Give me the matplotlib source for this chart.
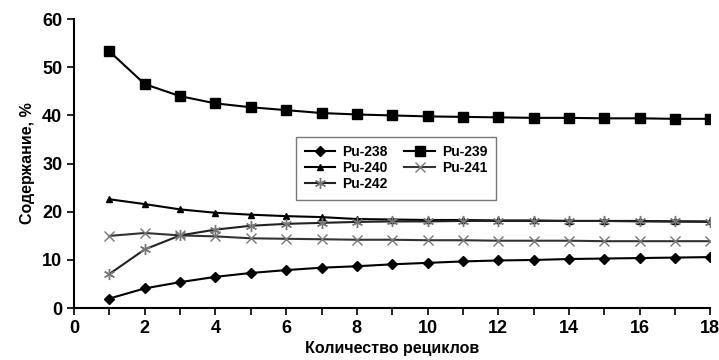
import matplotlib
matplotlib.use("Agg")
import matplotlib.pyplot as plt
from matplotlib.ticker import MultipleLocator

plt.rcParams['font.family'] = ['Liberation Sans', 'DejaVu Sans']
plt.rcParams['font.weight'] = 'bold'

cycles = list(range(1, 19))
pu238 = [2.0, 4.1, 5.4, 6.5, 7.3, 7.9, 8.4, 8.7, 9.1, 9.4, 9.7, 9.9, 10.0, 10.2, 10.3, 10.4, 10.5, 10.6]
pu239 = [53.3, 46.5, 44.0, 42.5, 41.7, 41.1, 40.5, 40.2, 40.0, 39.8, 39.7, 39.6, 39.5, 39.5, 39.4, 39.4, 39.3, 39.3]
pu240 = [22.6, 21.6, 20.5, 19.8, 19.4, 19.1, 18.9, 18.5, 18.4, 18.3, 18.3, 18.2, 18.2, 18.1, 18.1, 18.1, 18.0, 18.0]
pu241 = [15.0, 15.6, 15.1, 14.9, 14.5, 14.4, 14.3, 14.2, 14.2, 14.1, 14.1, 14.0, 14.0, 14.0, 13.9, 13.9, 13.9, 13.9]
pu242 = [7.1, 12.2, 15.1, 16.3, 17.1, 17.5, 17.7, 17.9, 18.0, 18.0, 18.1, 18.1, 18.1, 18.1, 18.1, 18.0, 18.0, 17.9]
labels = ['Pu-238', 'Pu-239', 'Pu-240', 'Pu-241', 'Pu-242']

fig = plt.figure(figsize=(7.19, 3.6), dpi=100)
ax = fig.add_axes([0.103, 0.144, 0.885, 0.803])

h238, = ax.plot(cycles, pu238, color='black', lw=1.5, marker='D', ms=5.5, mfc='black', mec='black')
h239, = ax.plot(cycles, pu239, color='black', lw=1.5, marker='s', ms=6.5, mfc='black', mec='black')
h240, = ax.plot(cycles, pu240, color='black', lw=1.5, marker='^', ms=4, mfc='black', mec='black')
h241, = ax.plot(cycles, pu241, color='#333333', lw=1.5, marker='x', ms=7, mec='#777777', mew=1.0)
h242, = ax.plot(cycles, pu242, color='#222222', lw=1.5, marker=(6, 2, 0), ms=8, mec='#777777', mew=1.0)

ax.set_xlim(0, 18)
ax.set_ylim(0, 60)
ax.xaxis.set_major_locator(MultipleLocator(2))
ax.xaxis.set_minor_locator(MultipleLocator(1))
ax.yaxis.set_major_locator(MultipleLocator(10))
ax.spines['top'].set_visible(False)
ax.spines['right'].set_visible(False)
for s in ['left', 'bottom']:
    ax.spines[s].set_linewidth(1.5)
ax.tick_params(axis='both', which='major', direction='out', length=5, width=1.2, labelsize=13)
ax.tick_params(axis='x', which='minor', direction='out', length=5, width=1.2)
for t in ax.get_xticklabels() + ax.get_yticklabels():
    t.set_fontweight('bold')

ax.set_xlabel('Количество рециклов', fontsize=11.5, fontweight='bold', labelpad=3)
ax.set_ylabel('Содержание, %', fontsize=11.5, fontweight='bold', labelpad=5)

leg = ax.legend([h238, h240, h242, h239, h241],
                ['Pu-238', 'Pu-240', 'Pu-242', 'Pu-239', 'Pu-241'],
                ncol=2, loc='center', bbox_to_anchor=(0.506, 0.484),
                frameon=True, fancybox=False, edgecolor='#555555',
                fontsize=10, handlelength=2.2, columnspacing=1.2,
                labelspacing=0.15, borderpad=0.6, handletextpad=0.5)
leg.get_frame().set_linewidth(1.0)
for t in leg.get_texts():
    t.set_fontweight('bold')

fig.savefig('out.png', dpi=100)
